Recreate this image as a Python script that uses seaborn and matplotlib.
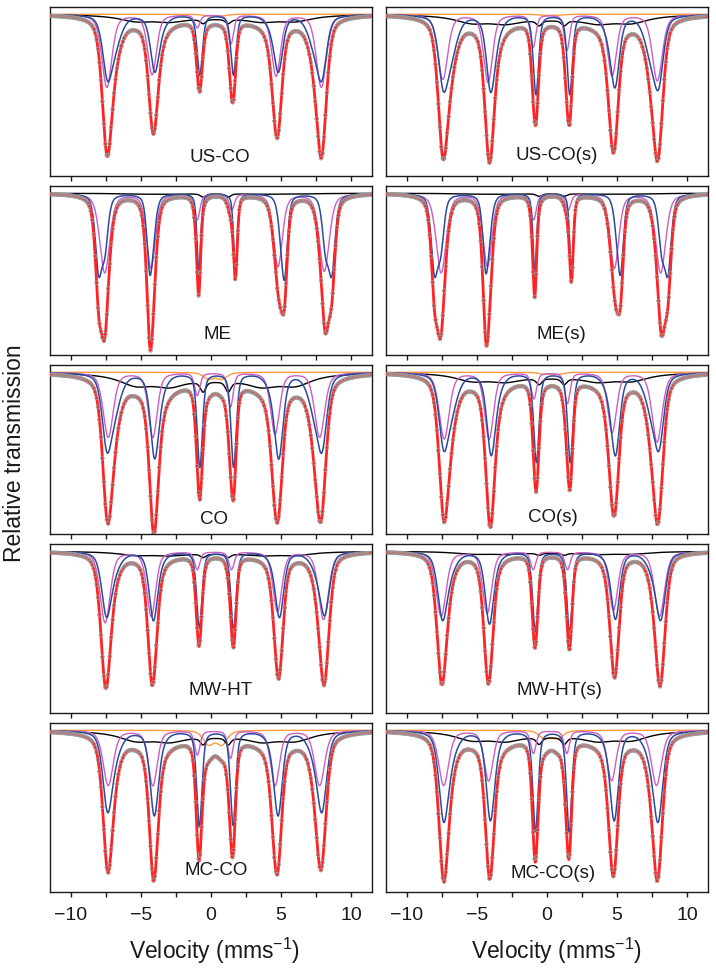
import numpy as np
import pandas as pd
import seaborn as sns
import matplotlib.pyplot as plt
from matplotlib.ticker import MultipleLocator

# -----------------------------
# panel names, in reading order (2 columns x 5 rows)
# -----------------------------
PANELS = ['US-CO', 'US-CO(s)', 'ME', 'ME(s)', 'CO', 'CO(s)',
          'MW-HT', 'MW-HT(s)', 'MC-CO', 'MC-CO(s)']

# sextet line pattern: position relative to outer half splitting, quadrupole sign,
# and which width (outer / middle / inner) each line uses
LINE_REL = [-1.0, -0.578, -0.157, 0.157, 0.578, 1.0]
QS_SIGN = [1, -1, -1, -1, -1, 1]
WIDTH_IDX = [0, 1, 2, 2, 1, 0]

# magenta sextet: isomer shift, half splitting (mm/s), line depths
MAG_IS = [0.22, 0.22, 0.25, 0.28, 0.21, 0.26, 0.24, 0.24, 0.21, 0.22]
MAG_S = [7.66, 7.66, 7.84, 7.84, 7.55, 7.60, 7.80, 7.80, 7.55, 7.60]
MAG_W = [0.85, 0.75, 0.45]
MAG_D = [[0.45, 0.37, 0.08, 0.18, 0.38, 0.45],
         [0.40, 0.42, 0.20, 0.22, 0.38, 0.41],
         [0.49, 0.46, 0.16, 0.10, 0.45, 0.48],
         [0.49, 0.45, 0.16, 0.10, 0.46, 0.49],
         [0.40, 0.40, 0.14, 0.21, 0.38, 0.40],
         [0.41, 0.41, 0.16, 0.19, 0.37, 0.43],
         [0.44, 0.40, 0.11, 0.11, 0.37, 0.42],
         [0.40, 0.38, 0.11, 0.11, 0.36, 0.40],
         [0.34, 0.34, 0.15, 0.17, 0.34, 0.34],
         [0.34, 0.31, 0.14, 0.14, 0.31, 0.34]]

# blue sextet (main lines + inner shoulder)
BLU_IS = [0.33, 0.35, 0.37, 0.37, 0.33, 0.38, 0.36, 0.36, 0.32, 0.33]
BLU_EPS = [-0.07, -0.07, -0.07, -0.07, -0.08, -0.07, -0.03, -0.03, -0.05, -0.05]
BLU_S = [7.66, 7.70, 8.33, 8.34, 7.69, 7.70, 7.80, 7.80, 7.66, 7.66]
BLU_W = [0.80, 0.70, 0.45]
BLU_WS = [1.0, 1.0, 0.7, 0.7, 1.0, 1.0, 1.0, 1.0, 1.0, 1.0]
BLU_D = [[0.33, 0.29, 0.37, 0.37, 0.29, 0.33],
         [0.36, 0.39, 0.49, 0.49, 0.36, 0.35],
         [0.45, 0.42, 0.48, 0.48, 0.45, 0.45],
         [0.45, 0.41, 0.48, 0.49, 0.42, 0.45],
         [0.39, 0.45, 0.58, 0.58, 0.45, 0.39],
         [0.38, 0.43, 0.55, 0.55, 0.43, 0.38],
         [0.36, 0.39, 0.47, 0.48, 0.37, 0.35],
         [0.38, 0.41, 0.49, 0.50, 0.38, 0.38],
         [0.45, 0.48, 0.59, 0.58, 0.48, 0.45],
         [0.51, 0.51, 0.62, 0.62, 0.51, 0.51]]
SH_D = [0.16, 0.22, 0.30, 0.30, 0.20, 0.20, 0.09, 0.09, 0.11, 0.11]
SH_DS = [0.55, 0.55, 0.45, 0.45, 0.55, 0.55, 0.55, 0.55, 0.55, 0.55]
SH_W = [1.1, 1.1, 0.55, 0.55, 1.1, 1.1, 1.1, 1.1, 1.1, 1.1]

# black broad component: broad sextet + narrow inner pair
BLK_IS = 0.33
BLK_S = 5.7
BLK_B = [0.035, 0.044, 0.004, 0.004, 0.066, 0.044, 0.020, 0.014, 0.053, 0.050]
BLK_N = [0.025, 0.030, 0.020, 0.015, 0.060, 0.035, 0.020, 0.012, 0.040, 0.040]

# orange doublet
ORG_IS = 0.30
ORG_QS = 0.95
ORG_D = [0.010, 0.006, 0.0, 0.0, 0.040, 0.012, 0.0, 0.0, 0.085, 0.050]

LABEL_X = [0.6, 0.7, 0.5, 1.0, 0.2, 0.4, 0.65, 0.9, 0.4, 0.45]
LABEL_Y = [0.11, 0.12, 0.12, 0.12, 0.085, 0.095, 0.135, 0.135, 0.125, 0.11]

ETA = 0.45  # lorentzian fraction of the line profile


def lor(v, p, w):
    return 1.0 / (1.0 + ((v - p) / (w / 2.0)) ** 2)


def pv(v, p, w):
    g = np.exp(-4 * np.log(2) * ((v - p) / w) ** 2)
    return ETA * lor(v, p, w) + (1 - ETA) * g


def sextet(v, iso, s, eps, depths, widths, shape=pv):
    a = np.zeros_like(v)
    for k in range(6):
        p = iso + s * LINE_REL[k] + eps * QS_SIGN[k]
        a += depths[k] * shape(v, p, widths[WIDTH_IDX[k]])
    return a


def components(v, i):
    mag = sextet(v, MAG_IS[i], MAG_S[i], 0.0, MAG_D[i], MAG_W)
    sh = SH_D[i]
    bw = [w * BLU_WS[i] for w in BLU_W]
    blu = sextet(v, BLU_IS[i], BLU_S[i], BLU_EPS[i], BLU_D[i], bw) + \
        sextet(v, BLU_IS[i], BLU_S[i] - SH_DS[i], BLU_EPS[i],
               [sh, 0.5 * sh, 0, 0, 0.5 * sh, sh], [SH_W[i]] * 3)
    b = BLK_B[i]
    blk = sextet(v, BLK_IS, BLK_S, 0.0, [b, b, 0.3 * b, 0.3 * b, b, b],
                 [3.0, 3.0, 3.0], shape=lor) + \
        BLK_N[i] * (pv(v, BLK_IS - 0.157 * BLK_S, 0.45) + pv(v, BLK_IS + 0.157 * BLK_S, 0.45))
    org = ORG_D[i] * (pv(v, ORG_IS - ORG_QS / 2, 0.9) + pv(v, ORG_IS + ORG_QS / 2, 0.9))
    return mag, blu, blk, org


sns.set_style('ticks')
plt.rcParams['font.family'] = ['Liberation Sans', 'DejaVu Sans']
plt.rcParams['mathtext.fontset'] = 'custom'
plt.rcParams['mathtext.rm'] = 'Liberation Sans'
plt.rcParams['mathtext.it'] = 'Liberation Sans'

W, H = 716, 975
fig = plt.figure(figsize=(W / 100, H / 100), dpi=100)

vfine = np.linspace(-11.5, 11.5, 1500)
vchan = np.linspace(-11.4, 11.4, 220)

for i, name in enumerate(PANELS):
    row, col = divmod(i, 2)
    left = 50 if col == 0 else 386
    top = 7 + row * 179
    ax = fig.add_axes([left / W, 1 - (top + 169) / H, 322 / W, 169 / H])

    mag, blu, blk, org = components(vfine, i)
    total = 1 - (mag + blu + blk + org)
    curves = pd.DataFrame({'v': vfine, 'mag': 1 - mag, 'blu': 1 - blu,
                           'blk': 1 - blk, 'org': 1 - org, 'tot': total})
    cm, cb, ck, co = components(vchan, i)
    pts = pd.DataFrame({'v': vchan, 't': 1 - (cm + cb + ck + co)})

    if ORG_D[i] > 0:
        sns.lineplot(data=curves, x='v', y='org', ax=ax, color='#ff9a3c', lw=1.0,
                     estimator=None, sort=False, zorder=2)
    sns.lineplot(data=curves, x='v', y='blk', ax=ax, color='black', lw=1.0,
                 estimator=None, sort=False, zorder=3)
    sns.lineplot(data=curves, x='v', y='mag', ax=ax, color='#cc5ec4', lw=1.0,
                 estimator=None, sort=False, zorder=3)
    sns.lineplot(data=curves, x='v', y='blu', ax=ax, color='#2a4a9e', lw=1.1,
                 estimator=None, sort=False, zorder=4)
    sns.lineplot(data=curves, x='v', y='tot', ax=ax, color='#ff2424', lw=2.0,
                 estimator=None, sort=False, zorder=5)
    sns.scatterplot(data=pts, x='v', y='t', ax=ax, marker='o', s=7,
                    facecolor='none', edgecolor='#9a9a9a', linewidth=0.55, zorder=6)

    ax.set_xlim(-11.5, 11.5)
    ax.set_ylim(0.0, 1.045)
    ax.set_yticks([])
    ax.set_xlabel('')
    ax.set_ylabel('')
    ax.xaxis.set_major_locator(MultipleLocator(5))
    ax.xaxis.set_minor_locator(MultipleLocator(2.5))
    ax.tick_params(axis='x', which='both', direction='out', length=3.6, width=1.0,
                   labelsize=14, pad=7, labelbottom=(row == 4), colors='#1a1a1a')
    for sp in ax.spines.values():
        sp.set_linewidth(1.0)
        sp.set_color('#1a1a1a')
        sp.set_visible(True)
    ax.text(LABEL_X[i], LABEL_Y[i], name, transform=ax.get_xaxis_transform(),
            ha='center', va='center', fontsize=13.5, color='#1a1a1a')

fig.text(0.299, 0.025, 'Velocity (mms$^{-1}$)', ha='center', va='center', fontsize=16.5, color='#1a1a1a')
fig.text(0.777, 0.025, 'Velocity (mms$^{-1}$)', ha='center', va='center', fontsize=16.5, color='#1a1a1a')
fig.text(0.02, 0.535, 'Relative transmission', rotation=90, ha='center', va='center',
         fontsize=16.5, color='#1a1a1a')

fig.savefig('out.png', dpi=100)
